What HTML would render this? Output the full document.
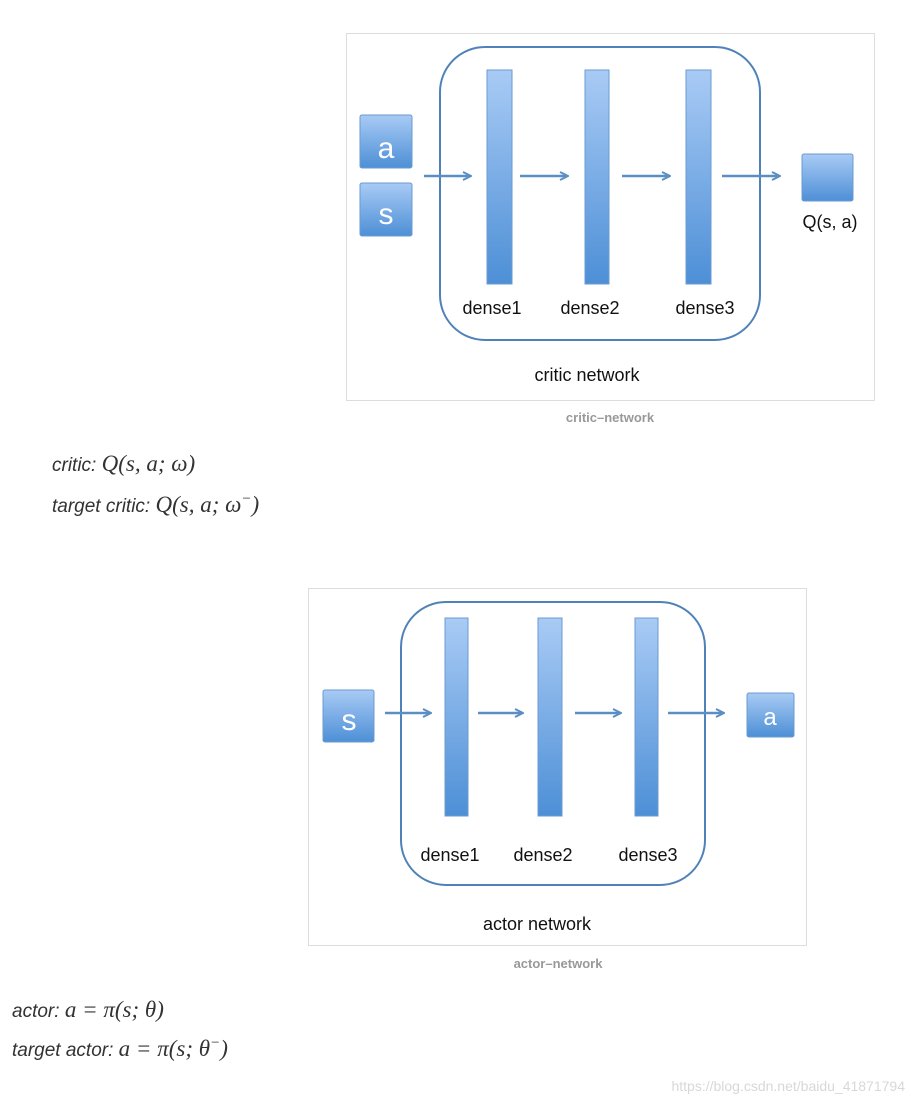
<!DOCTYPE html>
<html><head><meta charset="utf-8"><style>
html,body{margin:0;padding:0;background:#fff;}
svg{display:block}
text{font-family:"Liberation Sans",sans-serif}
.m{font-family:"Liberation Serif",serif;font-style:italic}
</style></head><body>
<svg width="914" height="1105" viewBox="0 0 914 1105">
<defs>
<linearGradient id="g" x1="0" y1="0" x2="0" y2="1">
<stop offset="0" stop-color="#a9cbf5"/><stop offset="1" stop-color="#4d8fd6"/></linearGradient>
<marker id="ar" markerWidth="10" markerHeight="10" refX="8" refY="5" orient="auto" markerUnits="userSpaceOnUse">
<path d="M1,1 L9,5 L1,9" fill="none" stroke="#5b8fc4" stroke-width="2"/></marker>
</defs>
<rect x="346.5" y="33.5" width="528" height="367" fill="#fff" stroke="#ddd"/>
<rect x="440" y="47" width="320" height="293" rx="45" fill="none" stroke="#4f82b8" stroke-width="2"/>
<g stroke="#6a9bd0" stroke-width="1">
<rect x="487" y="70" width="25" height="214" fill="url(#g)"/>
<rect x="585" y="70" width="24" height="214" fill="url(#g)"/>
<rect x="686" y="70" width="25" height="214" fill="url(#g)"/>
<rect x="360" y="115" width="52" height="53" rx="2" fill="url(#g)"/>
<rect x="360" y="183" width="52" height="53" rx="2" fill="url(#g)"/>
<rect x="802" y="154" width="51" height="47" rx="2" fill="url(#g)"/>
</g>
<text x="386" y="158" font-size="30" fill="#fff" text-anchor="middle">a</text>
<text x="386" y="224" font-size="30" fill="#fff" text-anchor="middle">s</text>
<g stroke="#5b8fc4" stroke-width="2.5" marker-end="url(#ar)">
<line x1="424" y1="176" x2="470" y2="176"/><line x1="520" y1="176" x2="567" y2="176"/>
<line x1="622" y1="176" x2="669" y2="176"/><line x1="722" y1="176" x2="779" y2="176"/>
</g>
<g font-size="18" fill="#111" text-anchor="middle">
<text x="492" y="314">dense1</text><text x="590" y="314">dense2</text><text x="705" y="314">dense3</text>
<text x="830" y="228">Q(s, a)</text><text x="587" y="381">critic  network</text></g>
<text x="610" y="422" font-size="13" font-weight="bold" fill="#999" text-anchor="middle">critic–network</text>
<text x="52" y="471" font-size="19" fill="#333"><tspan font-style="italic">critic: </tspan><tspan class="m" font-size="23">Q</tspan><tspan class="m" font-style="normal" font-size="23">(</tspan><tspan class="m" font-size="23">s, a; ω</tspan><tspan class="m" font-style="normal" font-size="23">)</tspan></text>
<text x="52" y="512" font-size="19" fill="#333"><tspan font-style="italic">target critic: </tspan><tspan class="m" font-size="23">Q</tspan><tspan class="m" font-style="normal" font-size="23">(</tspan><tspan class="m" font-size="23">s, a; ω</tspan><tspan class="m" font-size="15" dy="-9">−</tspan><tspan class="m" font-style="normal" font-size="23" dy="9">)</tspan></text>
<rect x="308.5" y="588.5" width="498" height="357" fill="#fff" stroke="#ddd"/>
<rect x="401" y="602" width="304" height="283" rx="45" fill="none" stroke="#4f82b8" stroke-width="2"/>
<g stroke="#6a9bd0" stroke-width="1">
<rect x="445" y="618" width="23" height="198" fill="url(#g)"/>
<rect x="538" y="618" width="24" height="198" fill="url(#g)"/>
<rect x="635" y="618" width="23" height="198" fill="url(#g)"/>
<rect x="323" y="690" width="51" height="52" rx="2" fill="url(#g)"/>
<rect x="747" y="693" width="47" height="44" rx="2" fill="url(#g)"/>
</g>
<text x="349" y="730" font-size="30" fill="#fff" text-anchor="middle">s</text>
<text x="770" y="725" font-size="24" fill="#fff" text-anchor="middle">a</text>
<g stroke="#5b8fc4" stroke-width="2.5" marker-end="url(#ar)">
<line x1="385" y1="713" x2="430" y2="713"/><line x1="478" y1="713" x2="522" y2="713"/>
<line x1="575" y1="713" x2="620" y2="713"/><line x1="668" y1="713" x2="723" y2="713"/>
</g>
<g font-size="18" fill="#111" text-anchor="middle">
<text x="450" y="861">dense1</text><text x="543" y="861">dense2</text><text x="648" y="861">dense3</text>
<text x="537" y="930">actor  network</text></g>
<text x="558" y="968" font-size="13" font-weight="bold" fill="#999" text-anchor="middle">actor–network</text>
<text x="12" y="1017" font-size="19" fill="#333"><tspan font-style="italic">actor: </tspan><tspan class="m" font-size="23">a</tspan><tspan class="m" font-style="normal" font-size="23"> = </tspan><tspan class="m" font-size="23">π</tspan><tspan class="m" font-style="normal" font-size="23">(</tspan><tspan class="m" font-size="23">s; θ</tspan><tspan class="m" font-style="normal" font-size="23">)</tspan></text>
<text x="12" y="1056" font-size="19" fill="#333"><tspan font-style="italic">target actor: </tspan><tspan class="m" font-size="23">a</tspan><tspan class="m" font-style="normal" font-size="23"> = </tspan><tspan class="m" font-size="23">π</tspan><tspan class="m" font-style="normal" font-size="23">(</tspan><tspan class="m" font-size="23">s; θ</tspan><tspan class="m" font-size="15" dy="-9">−</tspan><tspan class="m" font-style="normal" font-size="23" dy="9">)</tspan></text>
<text x="905" y="1091" font-size="14" fill="#d8d8d8" text-anchor="end">https://blog.csdn.net/baidu_41871794</text>
</svg>
</body></html>
